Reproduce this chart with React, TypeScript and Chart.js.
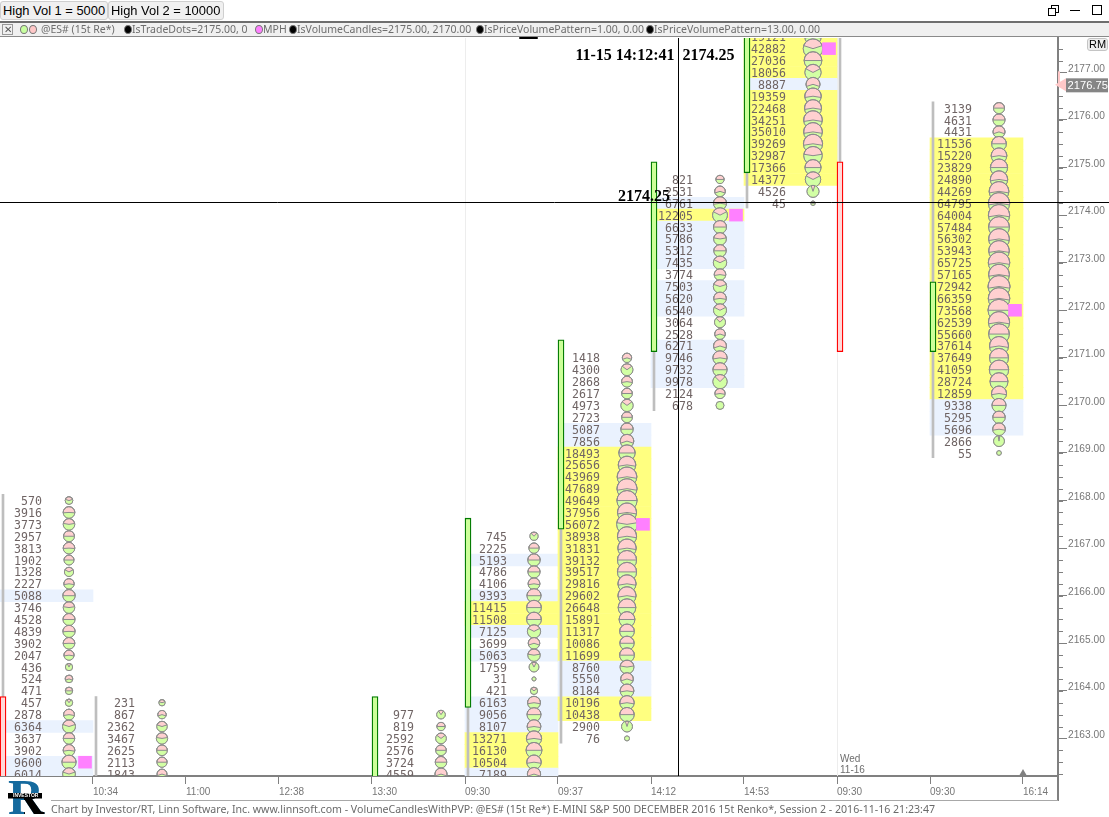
import React, { useEffect, useRef } from "react";
import { Chart, registerables } from "chart.js";

Chart.register(...registerables);

// ---- data ----
const tickLabels = ["10:34", "11:00", "12:38", "13:30", "09:30", "09:37", "14:12", "14:53", "09:30", "09:30", "16:14"];
const tickColumns = [1, 2, 3, 4, 5, 6, 7, 8, 9, 10, 11];
const priceTicks = [2163, 2164, 2165, 2166, 2167, 2168, 2169, 2170, 2171, 2172, 2173, 2174, 2175, 2176, 2177];

const col0Vol = [570, 3916, 3773, 2957, 3813, 1902, 1328, 2227, 5088, 3746, 4528, 4839, 3902, 2047, 436, 524, 471, 457, 2878, 6364, 3637, 3902, 9600, 6014];
const col0Pink = [.4, .52, .45, .5, .52, .5, .35, .55, .5, .45, .5, .52, .52, .55, .15, .6, .5, .2, .55, .4, .5, .55, .5, .4];
const col1Vol = [231, 867, 2362, 3467, 2625, 2113, 1843];
const col1Pink = [.4, .6, .4, .45, .5, .5, .6];
const col4Vol = [977, 819, 2592, 2576, 3724, 4559];
const col4Pink = [.2, .5, .3, .5, .5, .6];
const col5Vol = [745, 2225, 5193, 4786, 4106, 9393, 11415, 11508, 7125, 3699, 5063, 1759, 31, 421, 6163, 9056, 8107, 13271, 16130, 10504, 7189];
const col5Pink = [.25, .5, .5, .5, .55, .5, .5, .5, .35, .6, .45, .15, 0, .3, .55, .5, .55, .55, .5, .55, .6];
const col6Vol = [1418, 4300, 2868, 2617, 4973, 2723, 5087, 7856, 18493, 25656, 43969, 47689, 49649, 37956, 56072, 38938, 31831, 39132, 39517, 29816, 29602, 26648, 15891, 11317, 10086, 11699, 8760, 5550, 8184, 10196, 10438, 2900, 76];
const col6Pink = [.6, .3, .55, .5, .3, .5, .5, .6, .5, .55, .55, .55, .5, .55, .45, .55, .55, .5, .5, .55, .55, .5, .5, .5, .5, .5, .45, .6, .55, .55, .5, .1, 0];
const col7Vol = [821, 2531, 6761, 12205, 6633, 5786, 5312, 7435, 3774, 7503, 5620, 6540, 3064, 2528, 6271, 9746, 9732, 9978, 2124, 678];
const col7Pink = [.5, .6, .55, .35, .5, .45, .5, .35, .55, .4, .55, .35, .25, .6, .6, .55, .5, .25, .55, 0];
const col8Vol = [19121, 42882, 27036, 18056, 8887, 19359, 22468, 34251, 35010, 39269, 32987, 17366, 14377, 4526, 45];
const col8Pink = [.55, .4, .5, .35, .6, .55, .55, .55, .55, .55, .45, .5, .35, .1, .5];
const col10Vol = [3139, 4631, 4431, 11536, 15220, 23829, 24890, 44269, 64795, 64004, 57484, 56302, 53943, 65725, 57165, 72942, 66359, 73568, 62539, 55660, 37614, 37649, 41059, 28724, 12859, 9338, 5295, 5696, 2866, 55];
const col10Pink = [.5, .5, .6, .5, .55, .5, .55, .55, .55, .55, .5, .55, .55, .55, .55, .55, .55, .5, .55, .5, .55, .5, .5, .5, .55, .5, .5, .55, .05, 0];

const profiles = [
  { col: 0, top: 2168, vol: col0Vol, pink: col0Pink, mph: 2162.5 },
  { col: 1, top: 2163.75, vol: col1Vol, pink: col1Pink, mph: null },
  { col: 4, top: 2163.5, vol: col4Vol, pink: col4Pink, mph: null },
  { col: 5, top: 2167.25, vol: col5Vol, pink: col5Pink, mph: null },
  { col: 6, top: 2171, vol: col6Vol, pink: col6Pink, mph: 2167.5 },
  { col: 7, top: 2174.75, vol: col7Vol, pink: col7Pink, mph: 2174 },
  { col: 8, top: 2177.75, vol: col8Vol, pink: col8Pink, mph: 2177.5 },
  { col: 10, top: 2176.25, vol: col10Vol, pink: col10Pink, mph: 2172 },
];

const candleCols = [0, 4, 5, 6, 7, 8, 9, 10];
const candleLow = [2160, 2162, 2163.65, 2167.4, 2171.13, 2174.89, 2171.13, 2171.13];
const candleHigh = [2163.88, 2163.88, 2167.63, 2171.38, 2175.12, 2179, 2175.12, 2172.6];
const candleUp = [false, true, true, true, true, true, false, true];

const wickCols = [0, 1, 5, 6, 7, 8, 9, 10];
const wickLow = [2160, 2160, 2160, 2162.9, 2169.89, 2174.15, 2175, 2168.9];
const wickHigh = [2168.13, 2163.88, 2167.6, 2171.3, 2175, 2179, 2179, 2176.38];

const sessionCols = [5, 9];
const crossPrice = 2174.25;
const crossCol = 7.293;
const lastPrice = 2176.75;
const cursorLabel = "11-15 14:12:41";
const dayLabel = ["Wed", "11-16"];
const footer = "Chart by Investor/RT, Linn Software, Inc. www.linnsoft.com - VolumeCandlesWithPVP: @ES# (15t Re*) E-MINI S&P 500 DECEMBER 2016 15t Renko*, Session 2 - 2016-11-16 21:23:47";
const highVol1 = 5000;
const highVol2 = 10000;

// ---- styling / layout constants ----
const COL = 93;
const TICK = 0.25;
const PINK = "#FFD0D0";
const GREEN = "#D2FFA4";
const DOT_EDGE = "#8C8C8C";
const AXIS = "#808080";
const dotRadius = (v: number) => 2.3 * Math.pow(v / 55, 0.217);

type Dot = { x: number; y: number; r: number; f: number; v: number; col: number };
const dots: Dot[] = [];
const bands: any[] = [];
const bandColors: string[] = [];
const squares: any[] = [];
profiles.forEach((p) => {
  p.vol.forEach((v, i) => {
    const price = p.top - i * TICK;
    dots.push({ x: p.col + 69 / COL, y: price, r: dotRadius(v), f: p.pink[i], v, col: p.col });
    if (v >= highVol1) {
      bands.push({ x: p.col + 0.5, y: [price - TICK / 2, price + TICK / 2] });
      bandColors.push(v >= highVol2 ? "#FFFF80" : "#EAF2FE");
    }
  });
  if (p.mph !== null) squares.push({ x: p.col + 85 / COL, y: [p.mph - TICK / 2, p.mph + TICK / 2] });
});

const overlay = {
  id: "overlay",
  beforeDatasetsDraw(chart: any) {
    const { ctx, chartArea: a, scales } = chart;
    ctx.save();
    ctx.strokeStyle = "#EDEDED";
    ctx.lineWidth = 1;
    sessionCols.forEach((c) => {
      const x = Math.round(scales.x.getPixelForValue(c)) + 0.5;
      ctx.beginPath();
      ctx.moveTo(x, a.top);
      ctx.lineTo(x, a.bottom);
      ctx.stroke();
    });
    ctx.restore();
  },
  afterDatasetDraw(chart: any, args: any) {
    if (chart.data.datasets[args.index].label !== "dots") return;
    const { ctx, chartArea: a, scales } = chart;
    const meta = chart.getDatasetMeta(args.index);
    ctx.save();
    ctx.beginPath();
    ctx.rect(a.left, a.top, a.right - a.left, a.bottom - a.top);
    ctx.clip();
    // text under the dots
    ctx.font = "11.6px 'DejaVu Sans Mono'";
    ctx.fillStyle = "#6F6464";
    ctx.textAlign = "right";
    ctx.textBaseline = "middle";
    dots.forEach((d) => {
      ctx.fillText(String(d.v), scales.x.getPixelForValue(d.col + 42 / COL), scales.y.getPixelForValue(d.y) + 1.5);
    });
    // each dot: a green disc with a pink slice facing up, later dots over earlier
    meta.data.forEach((el: any, i: number) => {
      const d = dots[i];
      const r = el.options.radius;
      ctx.beginPath();
      ctx.arc(el.x, el.y, r, 0, Math.PI * 2);
      ctx.fillStyle = GREEN;
      ctx.fill();
      if (d.f > 0) {
        const half = Math.PI * d.f;
        ctx.beginPath();
        ctx.moveTo(el.x, el.y);
        ctx.arc(el.x, el.y, r, -Math.PI / 2 - half, -Math.PI / 2 + half);
        ctx.closePath();
        ctx.fillStyle = PINK;
        ctx.fill();
        ctx.strokeStyle = DOT_EDGE;
        ctx.lineWidth = 1;
        ctx.stroke();
      }
      ctx.beginPath();
      ctx.arc(el.x, el.y, r, 0, Math.PI * 2);
      ctx.strokeStyle = DOT_EDGE;
      ctx.lineWidth = 1;
      ctx.stroke();
    });
    ctx.restore();
  },
  afterDraw(chart: any) {
    const { ctx, chartArea: a, scales, width, height } = chart;
    const { x: sx, y: sy } = scales;
    ctx.save();
    // minor price ticks
    ctx.strokeStyle = AXIS;
    ctx.lineWidth = 1;
    for (let p = 2162.25; p < 2178; p += TICK) {
      const y = Math.round(sy.getPixelForValue(p)) + 0.5;
      if (y < a.top || y > a.bottom) continue;
      ctx.beginPath();
      ctx.moveTo(a.right, y);
      ctx.lineTo(a.right + 5, y);
      ctx.stroke();
    }
    // frame under the tick labels
    ctx.strokeStyle = AXIS;
    ctx.lineWidth = 2;
    ctx.beginPath();
    ctx.moveTo(a.right, a.bottom);
    ctx.lineTo(a.right, 801);
    ctx.stroke();
    ctx.lineWidth = 1;
    ctx.strokeStyle = "#A8A8A8";
    ctx.beginPath();
    ctx.moveTo(51, 800.5);
    ctx.lineTo(a.right, 800.5);
    ctx.stroke();
    // little arrow at the last bar
    const ax = sx.getPixelForValue(11);
    ctx.fillStyle = "#808080";
    ctx.beginPath();
    ctx.moveTo(ax, a.bottom - 7);
    ctx.lineTo(ax + 4, a.bottom);
    ctx.lineTo(ax - 4, a.bottom);
    ctx.closePath();
    ctx.fill();
    // last price tag
    const ly = sy.getPixelForValue(lastPrice);
    ctx.fillStyle = "#FFC8C8";
    ctx.fillRect(a.right, ly - 13, 2, 14);
    ctx.beginPath();
    ctx.moveTo(a.right - 3, ly + 0.5);
    ctx.lineTo(a.right + 8, ly - 6);
    ctx.lineTo(a.right + 8, ly + 7);
    ctx.closePath();
    ctx.fill();
    ctx.fillStyle = "#858585";
    ctx.fillRect(a.right + 8, ly - 6, 42, 14);
    ctx.fillStyle = "#FFFFFF";
    ctx.font = "11.2px 'Liberation Sans'";
    ctx.textAlign = "left";
    ctx.textBaseline = "middle";
    ctx.fillText(lastPrice.toFixed(2), a.right + 9.5, ly + 1.5);
    // day label
    ctx.fillStyle = "#6E6E6E";
    ctx.font = "10px 'Liberation Sans'";
    const dx = sx.getPixelForValue(9) + 3;
    ctx.fillText(dayLabel[0], dx, 759);
    ctx.fillText(dayLabel[1], dx, 770.5);
    // crosshair
    const cx = Math.round(sx.getPixelForValue(crossCol)) + 0.5;
    const cy = Math.round(sy.getPixelForValue(crossPrice)) - 0.5;
    ctx.strokeStyle = "#000000";
    ctx.lineWidth = 1;
    ctx.beginPath();
    ctx.moveTo(cx, a.top);
    ctx.lineTo(cx, a.bottom);
    ctx.moveTo(0, cy);
    ctx.lineTo(width, cy);
    ctx.stroke();
    ctx.fillStyle = "#000000";
    ctx.font = "bold 16px 'Liberation Serif'";
    ctx.textBaseline = "middle";
    ctx.textAlign = "right";
    ctx.fillText(cursorLabel, cx - 4, 56);
    ctx.textAlign = "left";
    ctx.fillText(crossPrice.toFixed(2), cx + 4, 56);
    ctx.textAlign = "right";
    ctx.fillText(crossPrice.toFixed(2), sx.getPixelForValue(7) + 19, 197);
    // footer
    ctx.textAlign = "left";
    ctx.fillStyle = "#6A6A6A";
    ctx.font = "10.6px 'Noto Sans'";
    ctx.fillText(footer, 51, 810);
    // logo: blue letter with a dark leg and a black banner
    ctx.font = "bold 50px 'Liberation Serif'";
    ctx.textBaseline = "alphabetic";
    ctx.fillStyle = "#156A9E";
    ctx.fillText("R", 8, height - 3);
    ctx.save();
    ctx.beginPath();
    ctx.rect(24, 798, 22, 19);
    ctx.clip();
    ctx.fillStyle = "#000000";
    ctx.fillText("R", 8, height - 3);
    ctx.restore();
    ctx.fillStyle = "#000000";
    ctx.fillRect(8, 793, 34, 5.5);
    ctx.fillStyle = "#FFFFFF";
    ctx.font = "bold 5px 'Liberation Sans'";
    ctx.textBaseline = "middle";
    ctx.fillText("INVESTOR", 13, 796);
    ctx.restore();
  },
};

const legendLabel: React.CSSProperties = {
  position: "absolute",
  top: 22,
  height: 15,
  lineHeight: "15px",
  font: "10.5px 'Noto Sans'",
  color: "#6E6E6E",
  whiteSpace: "nowrap",
};
const chip = (left: number, color: string): React.CSSProperties => ({
  position: "absolute",
  left,
  top: 25,
  width: 8,
  height: 9,
  borderRadius: "50%",
  background: color,
  border: "1px solid #777",
  boxSizing: "border-box",
});
const tab = (left: number, width: number): React.CSSProperties => ({
  position: "absolute",
  left,
  top: 1,
  width,
  height: 19,
  background: "#F0F0F0",
  border: "1px solid #CFCFCF",
  borderRadius: 3,
  boxSizing: "border-box",
  font: "12.9px 'Liberation Sans'",
  lineHeight: "18px",
  color: "#000",
  paddingLeft: 2,
  whiteSpace: "nowrap",
});

export default function App() {
  const ref = useRef<HTMLCanvasElement>(null);
  useEffect(() => {
    const chart = new Chart(ref.current as HTMLCanvasElement, {
      type: "bar",
      plugins: [overlay],
      data: {
        datasets: [
          {
            label: "candles",
            data: candleCols.map((c, i) => ({ x: c + 3 / COL, y: [candleLow[i], candleHigh[i]] })),
            backgroundColor: candleUp.map((u) => (u ? "#CCFF99" : "#FFD8D8")),
            borderColor: candleUp.map((u) => (u ? "#007A00" : "#FF0000")),
            borderWidth: 1.3,
            borderSkipped: false,
            barThickness: 6,
            grouped: false,
          },
          {
            label: "wicks",
            data: wickCols.map((c, i) => ({ x: c + 3 / COL, y: [wickLow[i], wickHigh[i]] })),
            backgroundColor: "#BEBEBE",
            barThickness: 2,
            grouped: false,
          },
          {
            label: "mph",
            data: squares,
            backgroundColor: "#FF80FF",
            barThickness: 13,
            grouped: false,
          },
          {
            type: "bubble",
            label: "dots",
            data: dots.map((d) => ({ x: d.x, y: d.y, r: d.r })),
            backgroundColor: GREEN,
            borderColor: DOT_EDGE,
            borderWidth: 1,
          } as any,
          {
            label: "bands",
            data: bands,
            backgroundColor: bandColors,
            barThickness: COL,
            grouped: false,
          },
        ] as any,
      },
      options: {
        animation: false,
        responsive: false,
        events: [],
        layout: { autoPadding: false, padding: { top: 38, left: 0, right: 0, bottom: 0 } },
        plugins: { legend: { display: false }, tooltip: { enabled: false }, title: { display: false } },
        scales: {
          x: {
            type: "linear",
            offset: false,
            min: 0,
            max: 1058 / COL,
            border: { color: AXIS, width: 2 },
            grid: { offset: false, drawOnChartArea: false, drawTicks: true, tickLength: 8, tickColor: AXIS },
            afterBuildTicks: (s: any) => {
              s.ticks = tickColumns.map((value) => ({ value }));
            },
            afterFit: (s: any) => {
              s.height = 41;
              s.paddingLeft = 0;
              s.paddingRight = 0;
            },
            ticks: {
              autoSkip: false,
              maxRotation: 0,
              align: "start",
              padding: 2,
              color: "#777777",
              font: { family: "'Liberation Sans'", size: 10 },
              callback: (v: any) => tickLabels[tickColumns.indexOf(v)] ?? "",
            },
          },
          y: {
            type: "linear",
            position: "right",
            min: 2176 - (776 - 120) / 47.57,
            max: 2176 + (120 - 38) / 47.57,
            border: { color: AXIS, width: 2 },
            grid: { drawOnChartArea: false, tickLength: 9, tickColor: AXIS },
            afterBuildTicks: (s: any) => {
              s.ticks = priceTicks.map((value) => ({ value }));
            },
            afterFit: (s: any) => {
              s.width = 51;
              s.paddingTop = 0;
              s.paddingBottom = 0;
            },
            ticks: {
              autoSkip: false,
              padding: 1,
              labelOffset: -3.5,
              color: "#777777",
              font: { family: "'Liberation Sans'", size: 10.2 },
              callback: (v: any) => Number(v).toFixed(2),
            },
          },
        },
      } as any,
    });
    return () => chart.destroy();
  }, []);

  return (
    <div style={{ position: "absolute", left: 0, top: 0, width: 1109, height: 817, background: "#fff", overflow: "hidden" }}>
      <canvas ref={ref} width={1109} height={817} style={{ position: "absolute", left: 0, top: 0, width: 1109, height: 817 }} />
      <div style={{ position: "absolute", left: 519, top: 37, width: 19, height: 2, background: "#000", borderRadius: 1 }} />
      <div style={{ position: "absolute", left: 0, top: 21, width: 1109, height: 16, background: "#F0F0F0", borderTop: "2px solid #6E6E6E", borderBottom: "1px solid #8A8A8A", boxSizing: "border-box" }} />
      <div style={tab(0, 108)}>High Vol 1 = 5000</div>
      <div style={tab(108, 116)}>High Vol 2 = 10000</div>
      <div style={{ position: "absolute", left: 2, top: 24, width: 11, height: 11, border: "1px solid #999", boxSizing: "border-box", font: "10px 'Liberation Sans'", lineHeight: "9px", textAlign: "center", color: "#555" }}>✕</div>
      <div style={chip(20, "#C8FFA0")} />
      <div style={chip(29, "#FFC8C8")} />
      <div style={{ ...legendLabel, left: 41 }}>@ES# (15t Re*)</div>
      <div style={chip(124, "#000")} />
      <div style={{ ...legendLabel, left: 132 }}>IsTradeDots=2175.00, 0</div>
      <div style={chip(255, "#FF80FF")} />
      <div style={{ ...legendLabel, left: 263 }}>MPH</div>
      <div style={chip(289, "#000")} />
      <div style={{ ...legendLabel, left: 297 }}>IsVolumeCandles=2175.00, 2170.00</div>
      <div style={chip(476, "#000")} />
      <div style={{ ...legendLabel, left: 484 }}>IsPriceVolumePattern=1.00, 0.00</div>
      <div style={chip(646, "#000")} />
      <div style={{ ...legendLabel, left: 654 }}>IsPriceVolumePattern=13.00, 0.00</div>
      <div style={{ position: "absolute", left: 1087, top: 38, width: 21, height: 13, background: "#EEE", border: "1px solid #C4C4C4", borderRadius: 3, boxSizing: "border-box", font: "11px 'Liberation Sans'", lineHeight: "11px", textAlign: "center", color: "#000" }}>RM</div>
      <div style={{ position: "absolute", left: 1051, top: 5, width: 8, height: 8, border: "1px solid #000", boxSizing: "border-box" }} />
      <div style={{ position: "absolute", left: 1048, top: 8, width: 8, height: 8, border: "1px solid #000", boxSizing: "border-box", background: "#fff" }} />
      <div style={{ position: "absolute", left: 1070, top: 10, width: 10, height: 1, background: "#000" }} />
      <div style={{ position: "absolute", left: 1092, top: 5, width: 10, height: 10, border: "1px solid #000", boxSizing: "border-box" }} />
    </div>
  );
}
